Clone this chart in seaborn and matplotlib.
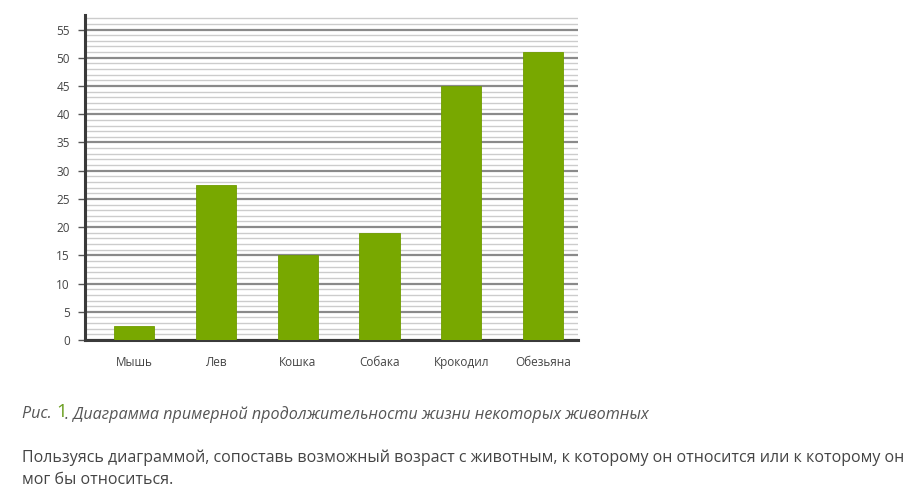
import matplotlib.pyplot as plt
import seaborn as sns
import pandas as pd
from matplotlib.ticker import MultipleLocator

# Data
animals = ["Мышь", "Лев", "Кошка", "Собака", "Крокодил", "Обезьяна"]
lifespan = [2.5, 27.5, 15, 19, 45, 51]

df = pd.DataFrame({"animal": animals, "years": lifespan})

sns.set_style("white")
plt.rcParams["font.family"] = ["Open Sans", "DejaVu Sans"]

fig = plt.figure(figsize=(9.24, 4.95), dpi=100)
ax = fig.add_axes([0.092, 0.313, 0.533, 0.657])

sns.barplot(data=df, x="animal", y="years", color="#78a800", width=0.49,
            saturation=1, ax=ax, zorder=3, edgecolor="#6f9c00", linewidth=0.6)

ax.set_ylim(0, 57.6)
ax.set_xlim(-0.6, 5.42)
ax.yaxis.set_major_locator(MultipleLocator(5))
ax.yaxis.set_minor_locator(MultipleLocator(1))
ax.grid(which="major", axis="y", color="#8a8a8a", linewidth=1.6, zorder=0)
ax.grid(which="minor", axis="y", color="#cccccc", linewidth=1.0, zorder=0)
ax.set_axisbelow(True)

for side in ["top", "right"]:
    ax.spines[side].set_visible(False)
ax.spines["left"].set_color("#3a3a3a")
ax.spines["left"].set_linewidth(2.2)
ax.spines["bottom"].set_color("#3a3a3a")
ax.spines["bottom"].set_linewidth(2.2)

ax.tick_params(axis="y", which="major", left=True, length=5, width=1, color="#555555",
               labelsize=8.5, labelcolor="#444444", pad=6)
ax.tick_params(axis="y", which="minor", left=False)
ax.tick_params(axis="x", bottom=False, labelsize=8.5, labelcolor="#444444", pad=8)
ax.set_xlabel("")
ax.set_ylabel("")

# caption
fig.text(0.024, 0.163, "Рис. ", fontsize=11.6, style="italic", color="#555555",
         ha="left", va="center")
fig.text(0.0605, 0.167, "1", fontsize=13.5, color="#6a9e1f", ha="left", va="center")
fig.text(0.0705, 0.163, ". Диаграмма примерной продолжительности жизни некоторых животных",
         fontsize=11.6, style="italic", color="#555555", ha="left", va="center")

fig.text(0.024, 0.075,
         "Пользуясь диаграммой, сопоставь возможный возраст с животным, к которому он относится или к которому он",
         fontsize=11.5, color="#444444", ha="left", va="center")
fig.text(0.024, 0.030, "мог бы относиться.", fontsize=11.5, color="#444444",
         ha="left", va="center")

fig.savefig("out.png", dpi=100)
